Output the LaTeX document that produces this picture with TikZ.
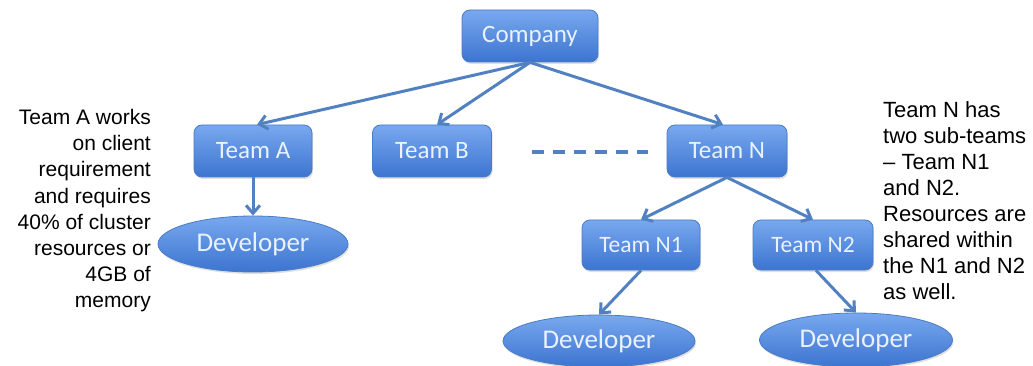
\documentclass[tikz,border=0pt]{standalone}
\usepackage{fontspec}
\setmainfont{Liberation Sans}
\newfontfamily\boxfont{Carlito}
\usetikzlibrary{arrows.meta,shapes.geometric,shadows,calc}
\definecolor{boxtop}{HTML}{78A8EE}
\definecolor{boxbot}{HTML}{3C74D0}
\definecolor{boxline}{HTML}{4A7CC4}
\definecolor{conn}{HTML}{5281C2}
\definecolor{boxtext}{HTML}{EAF2FF}
\tikzset{
  base/.style={draw=boxline, line width=0.8pt, top color=boxtop, bottom color=boxbot,
    text=boxtext, drop shadow={opacity=0.25, shadow xshift=1pt, shadow yshift=-2pt}},
  teambox/.style={base, rectangle, rounded corners=8pt, font=\boxfont\fontsize{25}{29}\selectfont,
    inner sep=0pt, minimum height=52pt},
  subbox/.style={teambox, font=\boxfont\fontsize{23.5}{27}\selectfont, minimum height=50pt},
  devnode/.style={base, ellipse, inner sep=0pt, font=\boxfont\fontsize{27}{31}\selectfont},
  conn/.style={draw=conn, line width=3pt, -{Straight Barb[length=8pt,width=14pt]}},
  note/.style={inner sep=0pt, text=black}
}
\begin{document}
\begin{tikzpicture}[x=1pt,y=-1pt]
\useasboundingbox (0,0) rectangle (1033,366);
\node[teambox, minimum width=136pt] (comp) at (530,36) {Company};
\node[teambox, minimum width=118pt] (ta) at (253,151) {Team A};
\node[teambox, minimum width=119pt] (tb) at (432,151) {Team B};
\node[teambox, minimum width=120pt] (tn) at (727,151) {Team N};
\node[subbox, minimum width=118pt] (n1) at (641,245) {Team N1};
\node[subbox, minimum width=120pt] (n2) at (813,245) {Team N2};
\node[devnode, minimum width=190pt, minimum height=56pt] (da) at (253,244) {Developer};
\node[devnode, minimum width=192pt, minimum height=52pt] (d1) at (599,341) {Developer};
\node[devnode, minimum width=193pt, minimum height=54pt] (d2) at (856,340) {Developer};

\draw[conn] (comp.south) -- ($(ta.north)+(4,0)$);
\draw[conn] (comp.south) -- ($(tb.north)+(5,0)$);
\draw[conn] (comp.south) -- ($(tn.north)+(-4,0)$);
\draw[conn] (ta.south) -- (da.north);
\draw[conn] (tn.south) -- (n1.north);
\draw[conn] (tn.south) -- (n2.north);
\draw[conn] (n1.south) -- (d1.north);
\draw[conn] ($(n2.south)+(3,0)$) -- (d2.north);

\coordinate (dashA) at ($(tb.east)+(40,1)$);
\coordinate (dashB) at ($(tn.west)+(-19,1)$);
\draw[draw=conn, line width=4pt, dash pattern=on 12pt off 9pt] (dashA) -- (dashB);

\node[note, font=\fontsize{21}{26.2}\selectfont, align=right, anchor=north east] (left) at (151,109)
  {Team A works\\on client\\requirement\\and requires\\40\% of cluster\\resources or\\4GB of\\memory};
\node[note, font=\fontsize{22}{26}\selectfont, align=left, anchor=north west] (right) at (883,101)
  {Team N has\\two sub-teams\\– Team N1\\and N2.\\Resources are\\shared within\\the N1 and N2\\as well.};
\end{tikzpicture}
\end{document}
